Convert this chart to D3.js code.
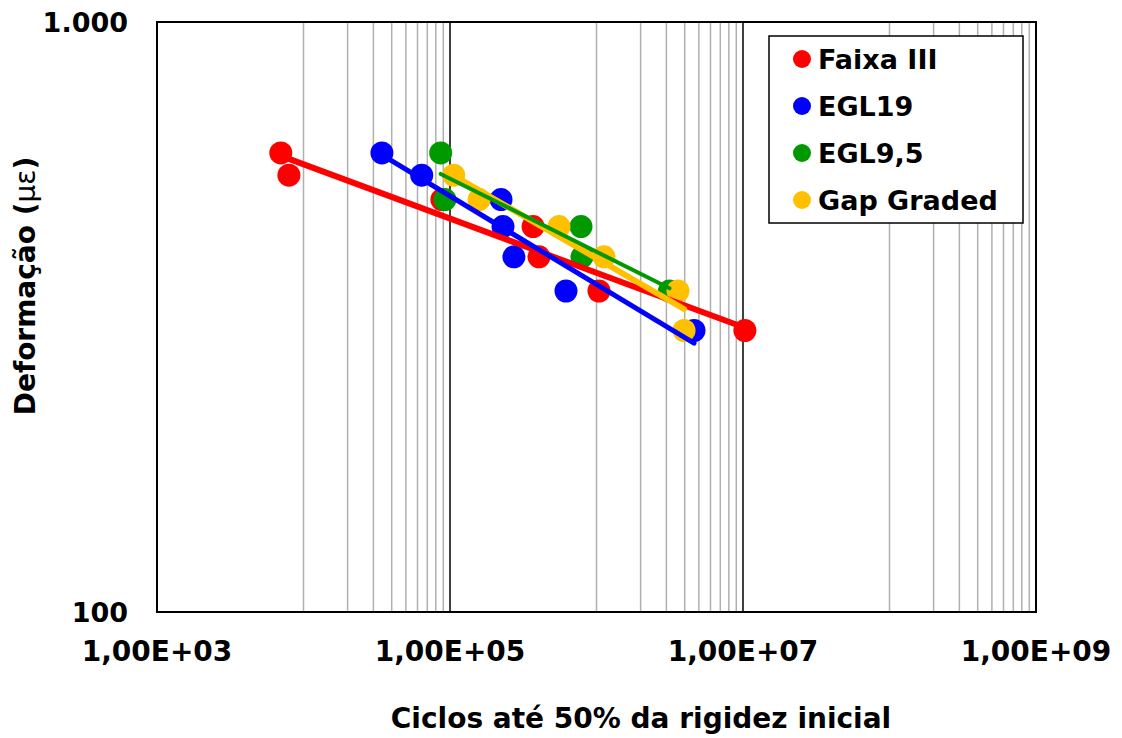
<!DOCTYPE html>
<html>
<head>
<meta charset="utf-8">
<script src="https://cdn.jsdelivr.net/npm/d3@7/dist/d3.min.js"></script>
<style>
  html, body { margin: 0; padding: 0; background: #fff; }
  svg text { font-family: "DejaVu Sans", Verdana, sans-serif; font-weight: bold; fill: #000; }
</style>
</head>
<body>
<svg id="chart" width="1122" height="738"></svg>
<script>
// Fatigue test results: cycles to 50% of initial stiffness vs. strain level
const seriesNames = ["Faixa III", "EGL19", "EGL9,5", "Gap Graded"];
const seriesColors = ["#ff0000", "#0000ff", "#009900", "#ffc000"];
const lineWidths = [6, 5, 4, 6];

const faixaCycles = [7000, 7950, 88000, 369000, 405000, 1040000, 10300000];
const faixaStrain = [600, 550, 500, 450, 400, 350, 300];

const egl19Cycles = [34300, 64100, 223000, 230000, 273000, 619000, 4630000];
const egl19Strain = [600, 550, 500, 450, 400, 350, 300];

const egl95Cycles = [86400, 92400, 784000, 796000, 3150000];
const egl95Strain = [600, 500, 450, 400, 350];

const gapCycles = [106000, 158000, 555000, 1125000, 3600000, 3960000];
const gapStrain = [550, 500, 450, 400, 350, 300];

// Log axis with major unit of two decades (base 100)
const xTickValues = [1e3, 1e5, 1e7, 1e9];
const xTickLabels = ["1,00E+03", "1,00E+05", "1,00E+07", "1,00E+09"];
const yTickValues = [100, 1000];
const yTickLabels = ["100", "1.000"];

const series = [
  { cycles: faixaCycles, strain: faixaStrain },
  { cycles: egl19Cycles, strain: egl19Strain },
  { cycles: egl95Cycles, strain: egl95Strain },
  { cycles: gapCycles, strain: gapStrain }
].map((s, i) => ({ ...s, name: seriesNames[i], color: seriesColors[i], lw: lineWidths[i] }));

const svg = d3.select("#chart");
const plot = { left: 157, top: 22, right: 1036, bottom: 612 };

const x = d3.scaleLog().domain([1e3, 1e9]).range([plot.left, plot.right]);
const y = d3.scaleLog().domain([100, 1000]).range([plot.bottom, plot.top]);

// Minor vertical gridlines: multiples 1..9 of a tenth of the next major tick
const minor = [];
for (let k = 0; k < xTickValues.length - 1; k++) {
  const step = xTickValues[k + 1] / 10;
  for (let m = 1; m <= 9; m++) minor.push(m * step);
}
svg.append("g").selectAll("line").data(minor).join("line")
  .attr("x1", d => x(d)).attr("x2", d => x(d))
  .attr("y1", plot.top).attr("y2", plot.bottom)
  .attr("stroke", "#b0b0b0").attr("stroke-width", 1.5);

// Major gridlines
svg.append("g").selectAll("line").data([1e5, 1e7]).join("line")
  .attr("x1", d => x(d)).attr("x2", d => x(d))
  .attr("y1", plot.top).attr("y2", plot.bottom)
  .attr("stroke", "#000").attr("stroke-width", 1.5);

// Plot frame
svg.append("rect")
  .attr("x", plot.left).attr("y", plot.top)
  .attr("width", plot.right - plot.left).attr("height", plot.bottom - plot.top)
  .attr("fill", "none").attr("stroke", "#000").attr("stroke-width", 2);

// Axis tick labels
svg.append("g").selectAll("text").data(xTickValues).join("text")
  .attr("x", d => x(d)).attr("y", 651)
  .attr("text-anchor", "middle").attr("dominant-baseline", "central")
  .style("font-size", "28px")
  .text((d, i) => xTickLabels[i]);

svg.append("g").selectAll("text").data(yTickValues).join("text")
  .attr("x", 128).attr("y", d => y(d))
  .attr("text-anchor", "end").attr("dominant-baseline", "central")
  .style("font-size", "27px")
  .text((d, i) => yTickLabels[i]);

// Axis titles
svg.append("text")
  .attr("x", 641).attr("y", 718)
  .attr("text-anchor", "middle").attr("dominant-baseline", "central")
  .style("font-size", "28px")
  .text("Ciclos até 50% da rigidez inicial");

const yTitle = svg.append("text")
  .attr("transform", "translate(25,286) rotate(-90)")
  .attr("text-anchor", "middle").attr("dominant-baseline", "central")
  .style("font-size", "28px");
yTitle.append("tspan").text("Deformação (");
yTitle.append("tspan").style("font-weight", "normal").text("με");
yTitle.append("tspan").text(")");

// Markers
series.forEach(s => {
  svg.append("g").selectAll("circle").data(s.cycles).join("circle")
    .attr("cx", d => x(d)).attr("cy", (d, i) => y(s.strain[i]))
    .attr("r", 11.5).attr("fill", s.color);
});

// Power-law trendlines (least squares in log-log space) over each data range
function powerFit(xs, ys) {
  const lx = xs.map(Math.log10), ly = ys.map(Math.log10);
  const mx = d3.mean(lx), my = d3.mean(ly);
  const b = d3.sum(lx, (v, i) => (v - mx) * (ly[i] - my)) / d3.sum(lx, v => (v - mx) ** 2);
  const a = my - b * mx;
  return v => Math.pow(10, a + b * Math.log10(v));
}

const lineOrder = [0, 1, 3, 2];
lineOrder.forEach(k => {
  const s = series[k];
  const f = powerFit(s.cycles, s.strain);
  const [x0, x1] = d3.extent(s.cycles);
  svg.append("line")
    .attr("x1", x(x0)).attr("y1", y(f(x0)))
    .attr("x2", x(x1)).attr("y2", y(f(x1)))
    .attr("stroke", s.color).attr("stroke-width", s.lw)
    .attr("stroke-linecap", "round");
});

// Legend
const legend = svg.append("g");
legend.append("rect")
  .attr("x", 769).attr("y", 36).attr("width", 254).attr("height", 187)
  .attr("fill", "#fff").attr("stroke", "#000").attr("stroke-width", 1.5);
const rows = legend.selectAll("g.row").data(series).join("g")
  .attr("transform", (d, i) => `translate(0,${59 + i * 47})`);
rows.append("circle").attr("cx", 802).attr("cy", 0).attr("r", 9).attr("fill", d => d.color);
rows.append("text").attr("x", 818).attr("y", 0)
  .attr("dominant-baseline", "central")
  .style("font-size", "27px")
  .text(d => d.name);
</script>
</body>
</html>
